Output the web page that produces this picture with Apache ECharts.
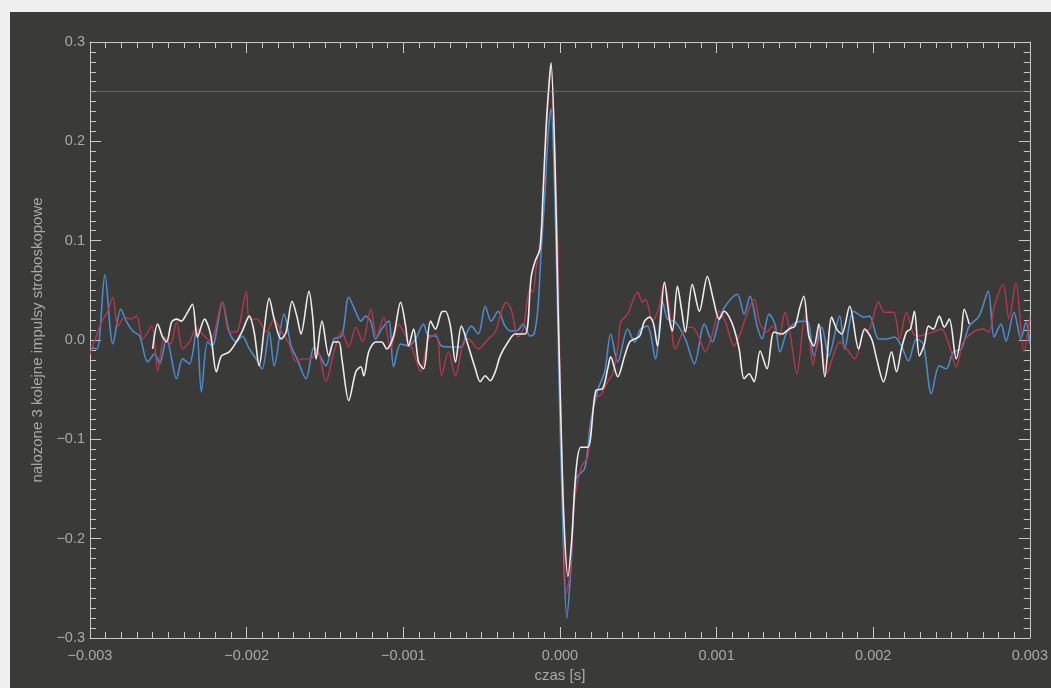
<!DOCTYPE html>
<html>
<head>
<meta charset="utf-8">
<script src="https://cdn.jsdelivr.net/npm/echarts@6/dist/echarts.min.js"></script>
<style>
  html, body { margin: 0; padding: 0; background: #efefef; width: 1051px; height: 688px; overflow: hidden; }
  #chart { position: absolute; left: 10px; top: 12px; width: 1041px; height: 676px; }
</style>
</head>
<body>
<div id="chart"></div>
<script>
// Three successive stroboscope pulses, overlaid. Each trace: [time in ms, amplitude].
const whiteTrace = [
  [-2.600,-0.009],[-2.568,0.016],[-2.536,0.003],[-2.511,-0.002],[-2.479,0.018],[-2.447,0.021],[-2.416,0.019],
  [-2.384,0.026],[-2.346,0.036],[-2.314,0.003],[-2.269,0.021],[-2.231,0.006],[-2.193,-0.032],[-2.161,-0.016],
  [-2.111,-0.012],[-2.066,-0.002],[-2.028,0.009],[-1.983,0.024],[-1.952,0.008],[-1.920,-0.026],[-1.888,0.011],
  [-1.856,0.042],[-1.824,0.021],[-1.780,0.001],[-1.748,0.008],[-1.710,0.039],[-1.678,0.023],[-1.653,0.006],
  [-1.602,0.049],[-1.577,0.021],[-1.557,-0.019],[-1.519,0.019],[-1.475,-0.016],[-1.443,-0.002],[-1.411,-0.002],
  [-1.392,-0.019],[-1.348,-0.061],[-1.303,-0.032],[-1.271,-0.027],[-1.252,-0.036],[-1.221,-0.012],[-1.176,-0.002],
  [-1.138,-0.002],[-1.106,-0.009],[-1.062,0.004],[-1.017,0.038],[-0.985,0.014],[-0.966,-0.006],[-0.934,0.011],
  [-0.903,-0.022],[-0.871,-0.029],[-0.826,0.019],[-0.795,0.011],[-0.756,0.028],[-0.731,0.029],[-0.699,0.014],
  [-0.667,-0.022],[-0.629,0.014],[-0.585,-0.006],[-0.540,-0.029],[-0.509,-0.042],[-0.477,-0.036],[-0.445,-0.041],
  [-0.413,-0.032],[-0.381,-0.016],[-0.331,-0.002],[-0.286,0.006],[-0.222,0.006],[-0.184,0.063],[-0.159,0.079],
  [-0.127,0.092],[-0.108,0.147],[-0.089,0.212],[-0.070,0.257],[-0.057,0.279],[-0.032,0.182],[-0.013,0.041],
  [0.006,-0.079],[0.025,-0.180],[0.051,-0.238],[0.076,-0.200],[0.102,-0.133],[0.133,-0.108],[0.178,-0.108],
  [0.229,-0.051],[0.273,-0.049],[0.305,-0.029],[0.324,-0.017],[0.369,-0.037],[0.413,-0.016],[0.445,-0.002],
  [0.477,0.001],[0.509,0.004],[0.540,0.019],[0.572,0.023],[0.598,0.016],[0.623,-0.006],[0.667,0.058],
  [0.699,0.021],[0.718,0.009],[0.750,0.054],[0.776,0.031],[0.801,0.008],[0.845,0.056],[0.890,0.029],
  [0.941,0.064],[0.979,0.041],[1.017,0.021],[1.049,0.029],[1.081,0.023],[1.112,0.011],[1.144,-0.009],
  [1.176,-0.039],[1.208,-0.034],[1.240,-0.042],[1.278,-0.011],[1.322,-0.029],[1.367,0.008],[1.418,0.006],
  [1.462,0.011],[1.500,0.014],[1.532,0.033],[1.557,0.044],[1.589,0.004],[1.621,-0.006],[1.653,0.016],
  [1.691,-0.037],[1.735,0.023],[1.767,0.011],[1.799,0.006],[1.850,0.034],[1.907,-0.009],[1.945,0.011],
  [1.990,0.001],[2.022,-0.019],[2.066,-0.042],[2.117,-0.012],[2.149,-0.032],[2.180,-0.009],[2.212,0.008],
  [2.238,0.011],[2.263,0.029],[2.295,-0.016],[2.327,-0.004],[2.352,0.014],[2.384,0.011],[2.422,0.024],
  [2.454,0.013],[2.486,0.021],[2.530,-0.019],[2.562,0.006],[2.581,0.031],[2.613,0.016]
];

const blueTrace = [
  [-3.000,-0.007],[-2.956,-0.009],[-2.905,0.066],[-2.854,-0.004],[-2.803,0.031],[-2.765,0.018],[-2.727,0.009],
  [-2.683,0.004],[-2.632,-0.022],[-2.587,-0.014],[-2.556,-0.024],[-2.511,0.001],[-2.447,-0.039],[-2.409,-0.019],
  [-2.365,-0.024],[-2.320,0.011],[-2.289,-0.052],[-2.250,-0.002],[-2.219,-0.006],[-2.155,0.038],[-2.111,0.008],
  [-2.066,-0.002],[-2.028,0.004],[-1.983,-0.009],[-1.939,-0.019],[-1.901,-0.029],[-1.856,0.008],[-1.824,-0.026],
  [-1.761,0.026],[-1.716,-0.006],[-1.678,-0.019],[-1.621,-0.039],[-1.570,-0.007],[-1.538,-0.014],[-1.494,-0.026],
  [-1.443,0.001],[-1.392,0.004],[-1.348,0.043],[-1.303,0.028],[-1.271,0.019],[-1.240,0.024],[-1.208,0.019],
  [-1.176,0.001],[-1.138,0.011],[-1.093,0.019],[-1.062,-0.027],[-1.017,-0.004],[-0.966,-0.006],[-0.922,0.001],
  [-0.871,0.016],[-0.839,0.004],[-0.795,0.004],[-0.756,-0.006],[-0.693,-0.007],[-0.629,-0.007],[-0.598,0.006],
  [-0.566,0.014],[-0.521,0.006],[-0.477,0.034],[-0.439,0.019],[-0.394,0.029],[-0.350,0.014],[-0.311,0.009],
  [-0.267,0.010],[-0.235,0.016],[-0.191,0.004],[-0.165,0.006],[-0.140,0.033],[-0.121,0.087],[-0.095,0.149],
  [-0.076,0.206],[-0.057,0.233],[-0.032,0.142],[-0.006,-0.039],[0.019,-0.190],[0.044,-0.280],[0.070,-0.230],
  [0.102,-0.140],[0.159,-0.129],[0.197,-0.082],[0.242,-0.050],[0.286,-0.032],[0.324,0.006],[0.369,-0.022],
  [0.432,0.011],[0.477,-0.002],[0.515,0.011],[0.559,0.014],[0.610,-0.019],[0.655,0.039],[0.687,0.021],
  [0.737,0.018],[0.801,0.001],[0.858,-0.024],[0.922,0.016],[0.973,-0.002],[1.017,0.021],[1.055,0.034],
  [1.132,0.046],[1.176,0.026],[1.214,0.044],[1.259,0.014],[1.290,0.001],[1.335,0.026],[1.373,0.016],
  [1.405,-0.012],[1.449,0.008],[1.513,0.018],[1.577,0.019],[1.621,-0.016],[1.672,0.013],[1.716,-0.016],
  [1.786,0.024],[1.818,-0.009],[1.875,0.029],[1.939,0.023],[1.977,0.024],[2.034,0.001],[2.085,0.001],
  [2.136,0.003],[2.180,-0.006],[2.225,-0.021],[2.276,0.001],[2.320,-0.004],[2.371,-0.054],[2.422,-0.026],
  [2.467,-0.029],[2.511,-0.012],[2.562,-0.009],[2.613,0.014],[2.676,0.024],[2.734,0.049],[2.772,0.003],
  [2.816,0.016],[2.848,-0.001],[2.899,0.028],[2.943,0.001],[2.975,0.018],[3.000,-0.004]
];

const redTrace = [
  [-3.000,-0.014],[-2.962,0.003],[-2.924,0.019],[-2.886,0.029],[-2.854,0.043],[-2.822,0.014],[-2.778,0.023],
  [-2.740,0.021],[-2.702,0.024],[-2.664,0.001],[-2.606,0.014],[-2.568,-0.031],[-2.524,0.003],[-2.486,-0.004],
  [-2.447,0.018],[-2.409,-0.009],[-2.365,-0.002],[-2.320,0.013],[-2.282,0.006],[-2.231,-0.001],[-2.155,0.038],
  [-2.111,0.008],[-2.066,0.008],[-2.002,0.049],[-1.983,0.021],[-1.933,0.021],[-1.875,0.008],[-1.824,0.021],
  [-1.780,0.009],[-1.729,-0.004],[-1.685,-0.022],[-1.646,-0.019],[-1.589,-0.019],[-1.551,-0.009],[-1.494,-0.042],
  [-1.443,-0.012],[-1.392,0.008],[-1.348,-0.007],[-1.303,0.013],[-1.259,-0.002],[-1.208,0.031],[-1.170,0.004],
  [-1.125,0.023],[-1.081,-0.009],[-1.030,0.016],[-0.985,0.004],[-0.934,-0.012],[-0.890,-0.032],[-0.839,0.001],
  [-0.788,0.006],[-0.756,-0.036],[-0.712,-0.012],[-0.667,-0.036],[-0.617,-0.002],[-0.585,0.001],[-0.521,-0.009],
  [-0.458,0.001],[-0.413,0.008],[-0.375,0.028],[-0.343,0.038],[-0.311,0.031],[-0.267,0.003],[-0.235,0.011],
  [-0.191,0.052],[-0.172,0.048],[-0.153,0.071],[-0.127,0.098],[-0.108,0.141],[-0.089,0.206],[-0.057,0.273],
  [-0.032,0.187],[-0.013,0.090],[0.006,-0.082],[0.025,-0.179],[0.038,-0.256],[0.064,-0.236],[0.095,-0.160],
  [0.127,-0.133],[0.146,-0.125],[0.178,-0.118],[0.222,-0.059],[0.261,-0.055],[0.305,-0.042],[0.337,-0.034],
  [0.369,-0.009],[0.388,0.018],[0.432,0.026],[0.496,0.048],[0.528,0.038],[0.547,0.041],[0.591,0.019],
  [0.629,0.031],[0.667,0.058],[0.699,0.031],[0.737,-0.009],[0.795,0.011],[0.845,0.013],[0.884,0.004],
  [0.928,-0.012],[0.973,0.006],[1.017,0.029],[1.055,0.019],[1.112,-0.006],[1.151,0.006],[1.182,0.021],
  [1.240,0.041],[1.278,0.016],[1.322,0.008],[1.354,0.014],[1.399,0.004],[1.437,0.028],[1.468,0.008],
  [1.513,-0.034],[1.564,0.024],[1.596,-0.004],[1.615,-0.026],[1.653,0.008],[1.704,-0.034],[1.748,-0.014],
  [1.786,-0.002],[1.831,-0.009],[1.882,-0.019],[1.939,0.008],[1.977,0.011],[2.034,0.038],[2.072,0.028],
  [2.130,0.028],[2.168,0.001],[2.212,0.028],[2.257,0.006],[2.295,0.004],[2.339,0.006],[2.384,0.008],
  [2.435,0.011],[2.486,-0.006],[2.530,-0.027],[2.575,-0.002],[2.638,0.008],[2.702,0.011],[2.740,0.008],
  [2.772,0.033],[2.829,0.056],[2.867,0.021],[2.911,0.058],[2.962,-0.012],[3.000,0.023]
];

// Reference level drawn across the plot
const referenceLevel = 0.25;

// Axis ranges and tick steps
const timeRange = [-0.003, 0.003];
const timeStep = 0.001;
const ampRange = [-0.3, 0.3];
const ampStep = 0.1;

const xTitle = 'czas [s]';
const yTitle = 'nalozone 3 kolejne impulsy stroboskopowe';

const toSeconds = trace => trace.map(([ms, v]) => [ms / 1000, v]);

const axisColor = '#c9c9c9';
const labelColor = '#a9a9a9';
const fontFamily = '"Liberation Sans", "DejaVu Sans", sans-serif';

const signed = (v, digits) => {
  const s = Math.abs(v).toFixed(digits);
  return (v < -1e-12 ? '\u2212' : '') + s;
};

function frameAxis(extra) {
  return Object.assign({
    type: 'value',
    axisLine: { show: true, onZero: false, lineStyle: { color: axisColor, width: 1 } },
    axisTick: { show: true, inside: true, length: 11, lineStyle: { color: axisColor, width: 1 } },
    minorTick: { show: true, splitNumber: 10, length: 6, lineStyle: { color: axisColor, width: 1 } },
    splitLine: { show: false },
    minorSplitLine: { show: false }
  }, extra);
}

const chart = echarts.init(document.getElementById('chart'), null, { renderer: 'canvas' });

chart.setOption({
  backgroundColor: '#3a3a38',
  animation: false,
  grid: { left: 80, top: 30, right: 17, bottom: 49, containLabel: false },
  xAxis: [
    frameAxis({
      position: 'bottom',
      min: timeRange[0], max: timeRange[1], interval: timeStep,
      axisLabel: { color: labelColor, fontSize: 14.5, fontFamily, margin: 10,
                   formatter: v => signed(v, 3) },
      name: xTitle, nameLocation: 'middle', nameGap: 30,
      nameTextStyle: { color: labelColor, fontSize: 15, fontFamily, letterSpacing: 1.5 }
    }),
    frameAxis({
      position: 'top',
      min: timeRange[0], max: timeRange[1], interval: timeStep,
      axisLabel: { show: false }
    })
  ],
  yAxis: [
    frameAxis({
      position: 'left',
      min: ampRange[0], max: ampRange[1], interval: ampStep,
      axisLabel: { color: labelColor, fontSize: 14.5, fontFamily, margin: 5,
                   formatter: v => signed(v, 1) },
      name: yTitle, nameLocation: 'middle', nameGap: 43, nameRotate: 90,
      nameTextStyle: { color: labelColor, fontSize: 15, fontFamily, letterSpacing: 1 }
    }),
    frameAxis({
      position: 'right',
      min: ampRange[0], max: ampRange[1], interval: ampStep,
      axisLabel: { show: false }
    })
  ],
  series: [
    {
      name: 'impuls 2',
      type: 'line',
      data: toSeconds(blueTrace),
      showSymbol: false,
      smooth: 0.3,
      lineStyle: { color: '#4b8bcb', width: 1.6 },
      z: 2
    },
    {
      name: 'impuls 3',
      type: 'line',
      data: toSeconds(redTrace),
      showSymbol: false,
      smooth: 0.3,
      lineStyle: { color: '#b8384b', width: 1.4 },
      markLine: {
        silent: true,
        symbol: 'none',
        label: { show: false },
        lineStyle: { color: 'rgba(150,140,70,0.55)', width: 1, type: 'solid' },
        data: [{ yAxis: referenceLevel }]
      },
      z: 3
    },
    {
      name: 'impuls 1',
      type: 'line',
      data: toSeconds(whiteTrace),
      showSymbol: false,
      smooth: 0.3,
      lineStyle: { color: '#ededed', width: 1.6 },
      z: 4
    }
  ]
});
</script>
</body>
</html>
